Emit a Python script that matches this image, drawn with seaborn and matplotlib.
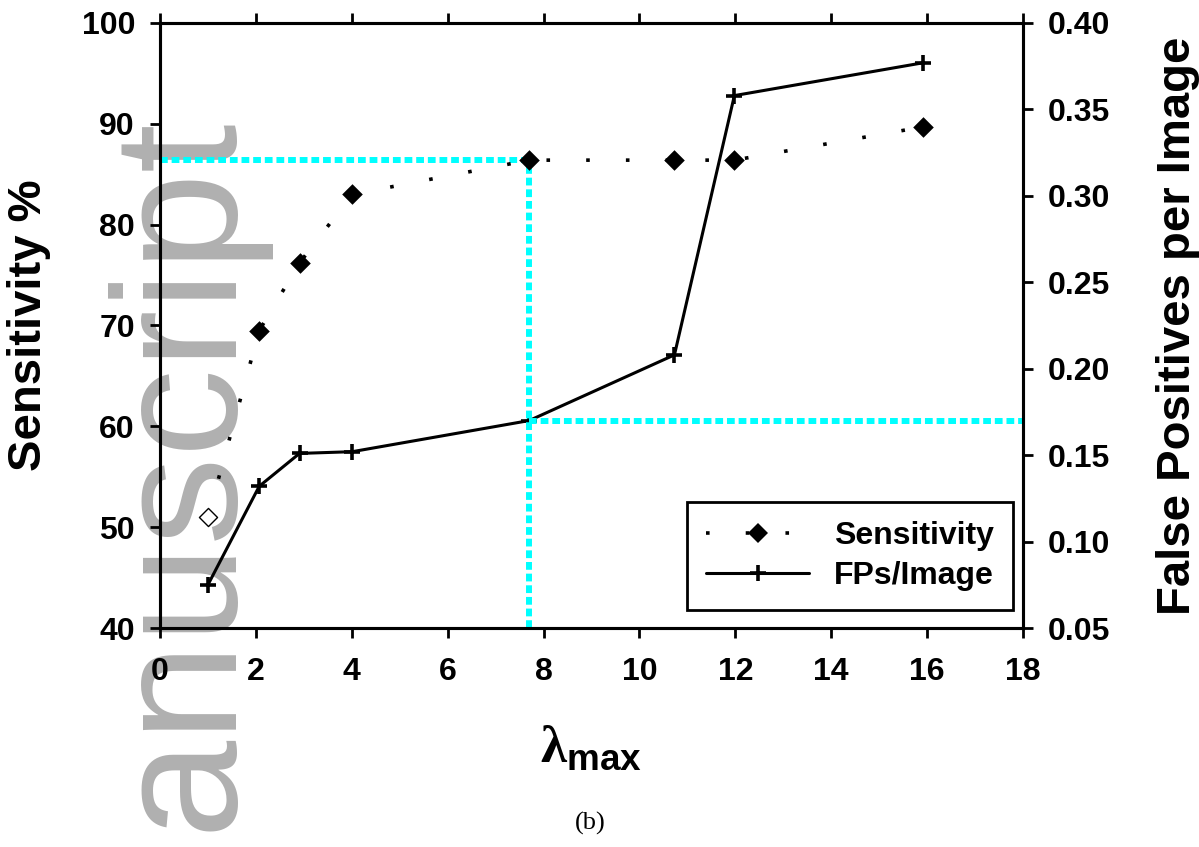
import pandas as pd
import seaborn as sns
from matplotlib import pyplot as plt
from matplotlib.lines import Line2D

# values
lam_max = [1.0, 2.07, 2.91, 4.01, 7.7, 10.73, 11.98, 15.92]
sensitivity = [51.0, 69.5, 76.2, 83.0, 86.4, 86.4, 86.4, 89.7]
fps_per_image = [0.075, 0.132, 0.151, 0.152, 0.170, 0.208, 0.358, 0.377]

cut_lam = 7.7
cut_sens = 86.4
cut_fp = 0.17

x_ticks = list(range(0, 19, 2))
sens_ticks = [40, 50, 60, 70, 80, 90, 100]
fp_ticks = [0.05, 0.10, 0.15, 0.20, 0.25, 0.30, 0.35, 0.40]

sns.set_style("ticks")
plt.rcParams["font.family"] = ["Liberation Sans", "DejaVu Sans"]
plt.rcParams["font.weight"] = "bold"
plt.rcParams["axes.labelweight"] = "bold"
for key in ["text.color", "axes.labelcolor", "xtick.color", "ytick.color", "axes.edgecolor"]:
    plt.rcParams[key] = "black"
plt.rcParams["mathtext.fontset"] = "custom"
plt.rcParams["mathtext.rm"] = "Liberation Serif:bold"
plt.rcParams["mathtext.bf"] = "Liberation Sans:bold"

data = pd.DataFrame({"lam": lam_max, "sens": sensitivity, "fp": fps_per_image})

fig = plt.figure(figsize=(11.99, 8.47), dpi=100)
ax = fig.add_axes([160 / 1199, 1 - 628 / 847, 863 / 1199, 605 / 847])
ax.patch.set_visible(False)
ax2 = ax.twinx()
ax2.patch.set_visible(False)

# watermark behind everything
fig.text(229 / 1199, 1 - 831 / 847, "anuscript", rotation=90, rotation_mode="anchor",
         ha="left", va="baseline", fontsize=127, fontweight="normal",
         color="#b0b0b0", zorder=-5)

lw = 2.2
cyan_kw = dict(color="#00ffff", lw=4.3, linestyle=(0, (1.3, 0.65)),
               dash_capstyle="butt", clip_on=False)

# FPs on host axis (right ticks)
sns.lineplot(data=data, x="lam", y="fp", ax=ax, color="black", lw=lw,
             marker="+", markersize=12, markeredgewidth=2.6,
             markeredgecolor="black", zorder=3)
ax.plot([cut_lam, 18], [cut_fp, cut_fp], zorder=4, **cyan_kw)

# cyan guides in sensitivity units
ax2.plot([0, cut_lam], [cut_sens, cut_sens], zorder=2, **cyan_kw)
ax2.plot([cut_lam, cut_lam], [40, cut_sens], zorder=2, **cyan_kw)

# Sensitivity on twin (left ticks)
sns.lineplot(data=data, x="lam", y="sens", ax=ax2, color="black", lw=2.6,
             linestyle=(0, (1, 10)), dash_capstyle="butt", zorder=3)
sns.scatterplot(data=data.iloc[1:], x="lam", y="sens", ax=ax2, color="black",
                marker="D", s=110, linewidth=0, zorder=5)
sns.scatterplot(data=data.iloc[:1], x="lam", y="sens", ax=ax2, facecolor="white",
                edgecolor="black", marker="D", s=85, linewidth=1.0, zorder=5)

ax.set_xlim(0, 18)
ax.set_xticks(x_ticks)
ax.set_ylim(0.05, 0.40)
ax.set_yticks(fp_ticks)
ax.set_yticklabels([f"{v:.2f}" for v in fp_ticks])
ax2.set_ylim(40, 100)
ax2.set_yticks(sens_ticks)

ax.yaxis.tick_right()
ax.yaxis.set_label_position("right")
ax2.yaxis.tick_left()
ax2.yaxis.set_label_position("left")

for a in (ax, ax2):
    for s in a.spines.values():
        s.set_linewidth(lw)
        s.set_visible(True)
    a.tick_params(direction="out", length=7, width=2, labelsize=23)

ax.tick_params(axis="x", top=True, pad=14)
ax.tick_params(axis="y", pad=11)
ax2.tick_params(axis="y", pad=11)

ax.set_xlabel(r"$\mathrm{\lambda}_{\mathbf{max}}$", fontsize=38, labelpad=26)
ax.set_ylabel("False Positives per Image", fontsize=34, labelpad=33)
ax2.set_ylabel("Sensitivity %", fontsize=34, labelpad=22)

handles = [
    Line2D([], [], color="black", lw=2.6, linestyle=(0, (1, 10)),
           marker="D", markersize=10, markeredgewidth=0),
    Line2D([], [], color="black", lw=lw, marker="+", markersize=12, markeredgewidth=2.6),
]
leg = ax2.legend(handles, ["Sensitivity", "FPs/Image"], loc="lower right",
                 bbox_to_anchor=(0.988, 0.03), borderaxespad=0, fontsize=23,
                 handlelength=3.2, handletextpad=0.78, labelspacing=0.3,
                 borderpad=0.6, fancybox=False, framealpha=1, edgecolor="black")
leg.get_frame().set_linewidth(2)

fig.text(590 / 1199, 1 - 823 / 847, "(b)", family="Liberation Serif", fontweight="normal",
         fontsize=19, ha="center", va="center")

fig.savefig("out.png", dpi=100)
